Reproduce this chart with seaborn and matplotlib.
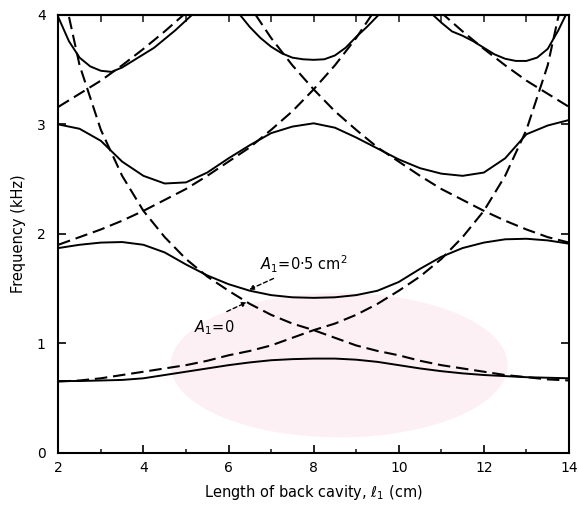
import matplotlib
matplotlib.use("Agg")
import matplotlib.pyplot as plt
import seaborn as sns
import pandas as pd
from matplotlib.patches import Ellipse

# Length of the back cavity, l1 (cm)
l1_all = [2.0, 2.5, 3.0, 3.5, 4.0, 4.5, 5.0, 5.5, 6.0, 6.5, 7.0, 7.5, 8.0,
          8.5, 9.0, 9.5, 10.0, 10.5, 11.0, 11.5, 12.0, 12.5, 13.0, 13.5, 14.0]
l1_2_to_10 = [2.0, 2.5, 3.0, 3.5, 4.0, 4.5, 5.0, 5.5, 6.0, 6.5, 7.0, 7.5,
              8.0, 8.5, 9.0, 9.5, 10.0]
l1_6_to_14 = [6.0, 6.5, 7.0, 7.5, 8.0, 8.5, 9.0, 9.5, 10.0, 10.5, 11.0,
              11.5, 12.0, 12.5, 13.0, 13.5, 14.0]
l1_2_to_5 = [2.0, 2.5, 3.0, 3.5, 4.0, 4.5, 5.0, 5.5]
l1_10_to_14 = [10.5, 11.0, 11.5, 12.0, 12.5, 13.0, 13.5, 14.0]
l1_arc_a = [2.0, 2.25, 2.5, 2.75, 3.0, 3.25, 3.5, 3.75, 4.0, 4.25, 4.5,
            4.75, 5.0, 5.25]
l1_arc_b = [6.0, 6.25, 6.5, 6.75, 7.0, 7.25, 7.5, 7.75, 8.0, 8.25, 8.5,
            8.75, 9.0, 9.25, 9.5, 9.75]
l1_arc_c = [10.75, 11.0, 11.25, 11.5, 11.75, 12.0, 12.25, 12.5, 12.75,
            13.0, 13.25, 13.5, 13.75, 14.0]

# Uncoupled resonances, A1 = 0 (kHz) -- dashed
back_1 = [4.43, 3.54, 2.95, 2.53, 2.21, 1.97, 1.77, 1.61, 1.48, 1.36, 1.26,
          1.18, 1.12, 1.05, 0.98, 0.93, 0.89, 0.84, 0.80, 0.77, 0.74, 0.71,
          0.69, 0.67, 0.66]
front_1 = [0.65, 0.66, 0.68, 0.71, 0.74, 0.77, 0.80, 0.84, 0.89, 0.93, 0.98,
           1.05, 1.12, 1.18, 1.26, 1.36, 1.48, 1.61, 1.77, 1.97, 2.21, 2.53,
           2.95, 3.54, 4.43]
back_2 = [4.43, 4.08, 3.79, 3.54, 3.32, 3.12, 2.95, 2.79, 2.66, 2.53, 2.41,
          2.31, 2.21, 2.12, 2.04, 1.97, 1.92]
front_2 = [1.90, 1.97, 2.04, 2.12, 2.21, 2.31, 2.41, 2.53, 2.66, 2.79, 2.95,
           3.12, 3.32, 3.54, 3.79, 4.08, 4.43]
back_3 = [4.21, 4.02, 3.85, 3.69, 3.54, 3.40, 3.28, 3.16]
front_3 = [3.16, 3.28, 3.40, 3.54, 3.69, 3.85, 4.02, 4.21]

# Formants with constriction area A1 = 0.5 cm^2 (kHz) -- solid
formant_1 = [0.655, 0.655, 0.66, 0.665, 0.68, 0.71, 0.74, 0.77, 0.80, 0.825,
             0.845, 0.855, 0.86, 0.86, 0.85, 0.83, 0.80, 0.77, 0.745, 0.725,
             0.71, 0.70, 0.69, 0.685, 0.68]
formant_2 = [1.87, 1.90, 1.92, 1.925, 1.90, 1.83, 1.72, 1.62, 1.54, 1.48,
             1.44, 1.42, 1.415, 1.42, 1.44, 1.48, 1.56, 1.68, 1.79, 1.87,
             1.92, 1.95, 1.955, 1.94, 1.91]
formant_3 = [3.00, 2.96, 2.85, 2.66, 2.53, 2.46, 2.47, 2.56, 2.69, 2.81,
             2.92, 2.98, 3.01, 2.97, 2.88, 2.78, 2.68, 2.60, 2.55, 2.53,
             2.56, 2.69, 2.91, 2.99, 3.04]
formant_4a = [3.98, 3.76, 3.61, 3.53, 3.49, 3.48, 3.52, 3.58, 3.64, 3.70,
              3.78, 3.86, 3.95, 4.04]
formant_4b = [4.15, 4.01, 3.89, 3.79, 3.71, 3.65, 3.61, 3.595, 3.59, 3.595,
              3.63, 3.70, 3.80, 3.89, 3.99, 4.09]
formant_4c = [4.02, 3.93, 3.85, 3.81, 3.76, 3.70, 3.64, 3.60, 3.58, 3.58,
              3.61, 3.69, 3.86, 4.06]

x_ticks = [2, 4, 6, 8, 10, 12, 14]
y_ticks = [0, 1, 2, 3, 4]

sns.set_theme(style="ticks")
plt.rcParams["font.family"] = ["DejaVu Sans"]

fig = plt.figure(figsize=(5.79, 5.09), dpi=100)
fig.patch.set_facecolor("white")

ax = fig.add_axes([0.1007, 0.1106, 0.882, 0.860])
ax.set_facecolor("white")

# faint pink seal behind the lower part of the plot
ax.add_patch(Ellipse((0.55, 0.20), 0.66, 0.33, transform=ax.transAxes,
                     facecolor="#fcf0f4", edgecolor="none", zorder=0,
                     clip_on=False))

dash = (0, (6.0, 2.8))
uncoupled = [(l1_all, back_1), (l1_all, front_1), (l1_6_to_14, back_2),
             (l1_2_to_10, front_2), (l1_10_to_14, back_3), (l1_2_to_5, front_3)]
coupled = [(l1_all, formant_1), (l1_all, formant_2), (l1_all, formant_3),
           (l1_arc_a, formant_4a), (l1_arc_b, formant_4b),
           (l1_arc_c, formant_4c)]

for xs, ys in uncoupled:
    df = pd.DataFrame({"l1": xs, "f": ys})
    sns.lineplot(data=df, x="l1", y="f", ax=ax, color="black", lw=1.5,
                 linestyle=dash, estimator=None, sort=False, zorder=3)
for xs, ys in coupled:
    df = pd.DataFrame({"l1": xs, "f": ys})
    sns.lineplot(data=df, x="l1", y="f", ax=ax, color="black", lw=1.4,
                 estimator=None, sort=False, zorder=3)

ax.set_xlim(2, 14)
ax.set_ylim(0, 4)
ax.set_xticks(x_ticks)
ax.set_xticklabels([str(v) for v in x_ticks], fontsize=10)
ax.set_xticks([3, 5, 7, 9, 11, 13], minor=True)
ax.set_yticks(y_ticks)
ax.set_yticklabels([str(v) for v in y_ticks], fontsize=10)

for side in ["left", "right", "top", "bottom"]:
    ax.spines[side].set_visible(True)
    ax.spines[side].set_linewidth(1.5)
    ax.spines[side].set_color("black")
    ax.spines[side].set_zorder(4)

ax.tick_params(axis="x", which="major", direction="in", length=6, width=1.2,
               pad=6, colors="black", bottom=True, top=False)
ax.tick_params(axis="x", which="minor", direction="in", length=3, width=1.2,
               bottom=True, top=False)
ax.tick_params(axis="y", which="major", direction="in", length=6, width=1.2,
               pad=9, colors="black", left=True, right=True)

top = ax.secondary_xaxis("top")
top.set_xticks(list(range(2, 15)))
top.tick_params(direction="in", length=5, width=1.2, labeltop=False)
top.spines["top"].set_linewidth(1.5)

ax.set_xlabel(r"Length of back cavity, $\ell_1$ (cm)", fontsize=10.5,
              labelpad=6, color="black")
ax.set_ylabel("Frequency (kHz)", fontsize=10.5, labelpad=8, color="black")

arrow = dict(arrowstyle="-|>", linestyle=(0, (3, 2)), lw=1.0, color="black",
             mutation_scale=7, shrinkA=0, shrinkB=0)
ax.annotate(r"$A_1$=0·5 cm$^2$", xy=(6.48, 1.49), xytext=(6.75, 1.72),
            fontsize=10.5, ha="left", va="center", arrowprops=arrow,
            color="black", zorder=5)
ax.annotate(r"$A_1$=0", xy=(6.43, 1.375), xytext=(5.2, 1.14),
            fontsize=10.5, ha="left", va="center", color="black", zorder=5)
ax.annotate("", xy=(6.43, 1.375), xytext=(5.96, 1.29), arrowprops=arrow,
            zorder=5)

fig.savefig("out.png", dpi=100)
